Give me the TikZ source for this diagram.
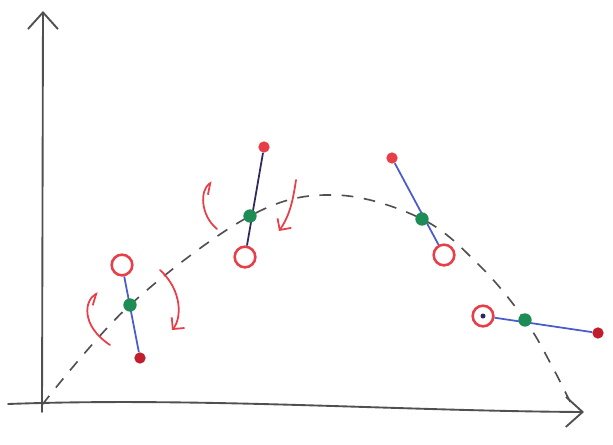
\documentclass[tikz,border=0pt]{standalone}
\usepackage{tikz}
\usetikzlibrary{arrows.meta}
\definecolor{RojoMasa}{RGB}{232,62,72}
\definecolor{RojoOscuro}{RGB}{192,30,45}
\definecolor{AzulVarilla}{RGB}{72,92,205}
\definecolor{AzulNoche}{RGB}{45,40,95}
\definecolor{VerdeCentro}{RGB}{30,140,85}
\definecolor{GrisLapiz}{RGB}{80,80,80}

\tikzset{
  eje/.style={line width=1.6pt,GrisLapiz,line cap=round,-{Straight Barb[length=5mm,width=9mm]}},
  trayectoria/.style={line width=1.4pt,GrisLapiz,dash pattern=on 10pt off 9pt},
  bolahueca/.style={circle,draw=RojoMasa,fill=white,line width=2.2pt,minimum size=6.2mm,inner sep=0pt},
  bolallena/.style={circle,fill=#1,minimum size=3.4mm,inner sep=0pt},
  centromasa/.style={circle,fill=VerdeCentro,minimum size=4mm,inner sep=0pt},
  varilla/.style={line width=1.5pt,AzulVarilla},
  giro/.style={line width=1.5pt,RojoMasa,line cap=round,-{Straight Barb[length=2.5mm,width=5mm]}},
  rizo/.style={line width=1.5pt,RojoMasa,line cap=round,-{Straight Barb[harpoon,swap,length=2.5mm,width=5mm]}}
}

\begin{document}
\begin{tikzpicture}[x=0.03cm,y=-0.03cm]
  \useasboundingbox (0,0) rectangle (613,444);

  % ejes
  \coordinate (yabajo) at (42,412);
  \coordinate (yarriba) at (43,11);
  \coordinate (xizq) at (8,404);
  \coordinate (xder) at (584,412);
  \draw[eje] (yabajo) -- (yarriba);
  \draw[eje] (xizq) .. controls (200,397) and (400,411) .. (xder);

  % trayectoria del centro de masa
  \draw[trayectoria] plot[smooth,tension=0.6] coordinates
    {(42,405) (130,305) (250,216) (335,195) (422,219) (480,266) (525,320) (553,368) (575,412)};

  % pesa 1
  \node[bolahueca] (h1) at (122,265) {};
  \node[bolallena=RojoOscuro] (l1) at (140,358) {};
  \draw[varilla] (h1) -- (l1);
  \node[centromasa] (c1) at (130,305) {};
  \draw[rizo] (110,345) .. controls (80,325) and (85,300) .. (98,293);
  \draw[giro] (160,270) .. controls (182,290) and (182,318) .. (172,330);

  % pesa 2
  \node[bolallena=RojoMasa] (l2) at (264,147) {};
  \node[bolahueca] (h2) at (245,257) {};
  \draw[varilla,AzulNoche] (l2) -- (h2);
  \node[centromasa] (c2) at (250,216) {};
  \draw[rizo] (217,229) .. controls (200,215) and (200,190) .. (212,182);
  \draw[giro] (296,180) .. controls (293,200) and (290,215) .. (279,231);

  % pesa 3
  \node[bolallena=RojoMasa] (l3) at (392,158) {};
  \node[bolahueca] (h3) at (444,255) {};
  \draw[varilla] (l3) -- (h3);
  \node[centromasa] (c3) at (422,219) {};

  % pesa 4
  \node[bolahueca] (h4) at (483,316) {};
  \node[bolallena=RojoOscuro] (l4) at (598,333) {};
  \draw[varilla] (h4) -- (l4);
  \node[centromasa] (c4) at (525,320) {};
  \fill[AzulNoche] (h4) circle (2.5);
\end{tikzpicture}
\end{document}
